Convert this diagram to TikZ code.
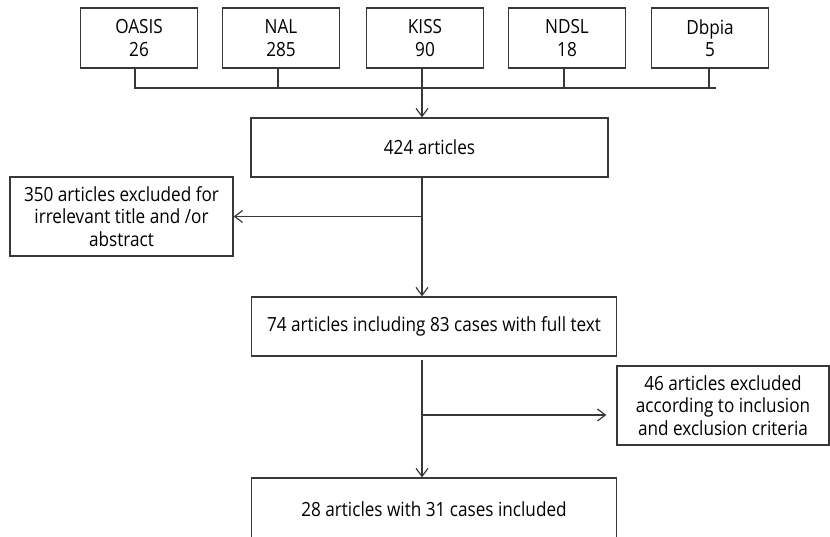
\documentclass[tikz,border=0pt]{standalone}
\usepackage{fontspec}
\setmainfont[FakeStretch=0.88]{Open Sans}
\usetikzlibrary{arrows.meta}

\begin{document}
\begin{tikzpicture}
      [x=1pt,y=-1pt,line width=1.2pt,draw=black!78,
       font=\fontsize{19.5}{22.5}\selectfont,
       src node/.style={rectangle,draw,align=center,minimum width=117pt,minimum height=60pt,inner sep=0pt},
       main node/.style={rectangle,draw,align=center,minimum width=365pt,minimum height=59pt,inner sep=0pt},
       side node/.style={rectangle,draw,align=center,minimum height=79pt,inner sep=0pt},
       arr/.style={-{Straight Barb[length=8pt,width=12pt]}}]
        \clip (0,0) rectangle (830,536);

        % sources
        \node[src node] (oasis) at (139,38) {OASIS\\26};
        \node[src node] (nal) at (281,38) {NAL\\285};
        \node[src node] (kiss) at (425,38) {KISS\\90};
        \node[src node] (ndsl) at (567,38) {NDSL\\18};
        \node[src node] (dbpia) at (710,38) {Dbpia\\5};

        \coordinate (busl) at (134,88);
        \coordinate (busr) at (716,88);
        \coordinate (spine) at (422,88);

        % flow
        \node[main node,minimum width=357pt] (all) at (429.5,147.5) {424 articles};
        \node[side node,minimum width=223pt] (excl1) at (121.5,216.5) {350 articles excluded for\\irrelevant title and /or\\abstract};
        \node[main node] (full) at (434,326.5) {74 articles including 83 cases with full text};
        \node[side node,minimum width=212pt] (excl2) at (723,405.5) {46 articles excluded\\according to inclusion\\and exclusion criteria};
        \node[main node,minimum height=62pt] (incl) at (434,509) {28 articles with 31 cases included};

        \draw (busl) -- (busr);
        \draw ([xshift=-4pt]oasis.south) -- ([xshift=-4pt]oasis.south |- busl);
        \draw ([xshift=-3pt]nal.south) -- ([xshift=-3pt]nal.south |- busl);
        \draw (spine |- kiss.south) -- (spine);
        \draw ([xshift=-3pt]ndsl.south) -- ([xshift=-3pt]ndsl.south |- busl);
        \draw ([xshift=-1pt]dbpia.south) -- ([xshift=-1pt]dbpia.south |- busl);

        \draw[arr] (spine) -- (spine |- all.north);
        \draw[arr] (spine |- all.south) -- (spine |- full.north);
        \draw[arr] (spine |- excl1.east) -- (excl1.east);
        \draw[arr] ([yshift=-3pt]spine |- full.south) -- (spine |- incl.north);
        \draw[arr] (spine |- 0,415) -- ([xshift=-10pt]excl2.west |- 0,415);

      \end{tikzpicture}
\end{document}
